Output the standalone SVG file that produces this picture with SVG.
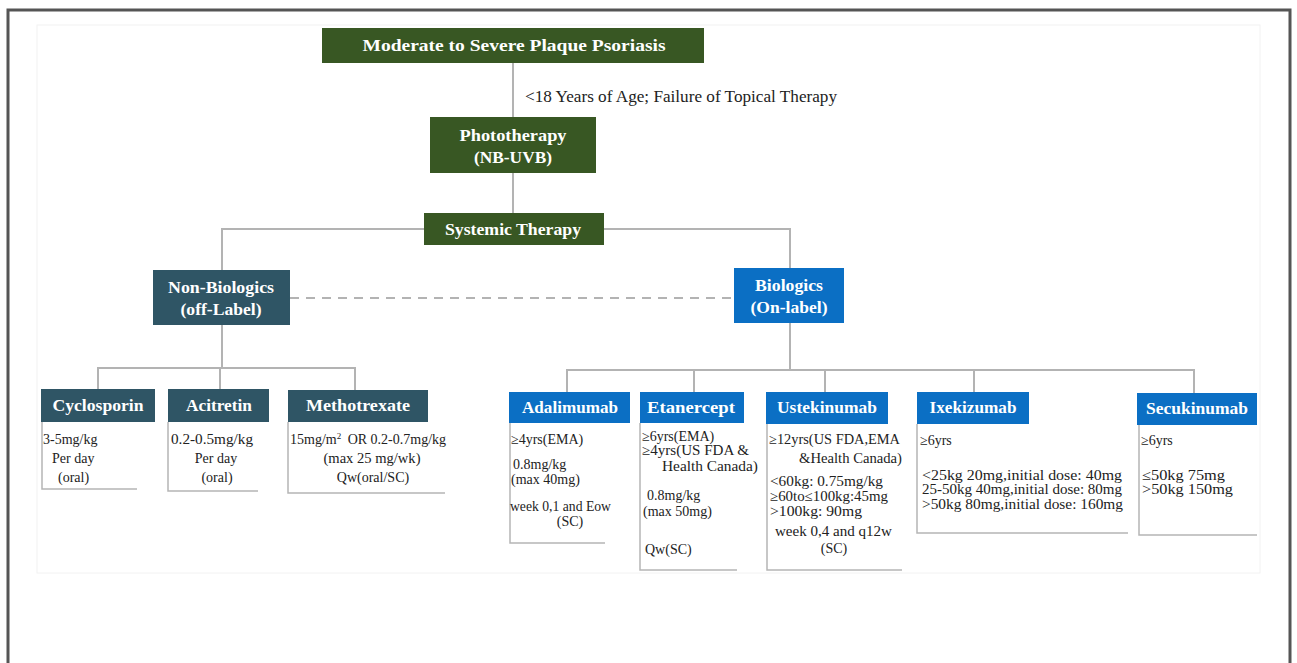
<svg xmlns="http://www.w3.org/2000/svg" width="1297" height="663" viewBox="0 0 1297 663">
<style>
.green{fill:#385723}
.teal{fill:#2f5565}
.blue{fill:#0b6fc4}
.hd{font-family:"Liberation Serif","Times New Roman",serif;font-weight:bold;fill:#ffffff;text-anchor:middle;font-size:16px}
.tx{font-family:"Liberation Serif","Times New Roman",serif;fill:#222222;font-size:14px}
.mid{text-anchor:middle}
.ln{stroke:#b3b3b3;stroke-width:2;fill:none}
.br{stroke:#b5b5b5;stroke-width:1.5;fill:none}
</style>
<rect width="1297" height="663" fill="#ffffff"/>
<path d="M8,670 V10 H1290 V670" fill="none" stroke="#555555" stroke-width="3"/>
<rect x="37" y="25" width="1223" height="548" fill="none" stroke="#f2f2f2" stroke-width="1"/>

<g id="connectors">
<path class="ln" d="M513,63 V117 M513,173 V213"/>
<path class="ln" d="M424,229 H222 V270 M604,229 H790 V268"/>
<path class="ln" d="M290,298 H734" stroke-dasharray="9,7"/>
<path class="ln" d="M222,325 V368 M98,389 V368 H355 V390 M220,368 V389"/>
<path class="ln" d="M790,323 V370 M567,392 V370 H1194 V393 M694,370 V392 M825,370 V392 M974,370 V392"/>
</g>
<text class="tx" x="525" y="102" style="font-size:16px" textLength="312" lengthAdjust="spacingAndGlyphs">&lt;18 Years of Age; Failure of Topical Therapy</text>

<g id="n-title"><rect class="green" x="322" y="28" width="382" height="35"/><text class="hd" x="514" y="51" style="font-size:17px" textLength="303" lengthAdjust="spacingAndGlyphs">Moderate to Severe Plaque Psoriasis</text></g>
<g id="n-photo"><rect class="green" x="430" y="117" width="166" height="56"/><text class="hd" x="513" y="141" textLength="107" lengthAdjust="spacingAndGlyphs">Phototherapy</text><text class="hd" x="513" y="163" textLength="78" lengthAdjust="spacingAndGlyphs">(NB-UVB)</text></g>
<g id="n-systemic"><rect class="green" x="424" y="213" width="180" height="32"/><text class="hd" x="513" y="235" textLength="136" lengthAdjust="spacingAndGlyphs">Systemic Therapy</text></g>
<g id="n-nonbio"><rect class="teal" x="153" y="270" width="137" height="55"/><text class="hd" x="221" y="293" textLength="106" lengthAdjust="spacingAndGlyphs">Non-Biologics</text><text class="hd" x="221" y="315" textLength="81" lengthAdjust="spacingAndGlyphs">(off-Label)</text></g>
<g id="n-bio"><rect class="blue" x="734" y="268" width="110" height="55"/><text class="hd" x="789" y="291" textLength="68" lengthAdjust="spacingAndGlyphs">Biologics</text><text class="hd" x="789" y="313" textLength="77" lengthAdjust="spacingAndGlyphs">(On-label)</text></g>

<g id="n-cyclosporin"><rect class="teal" x="41" y="389" width="114" height="33"/><text class="hd" x="98" y="411" textLength="91" lengthAdjust="spacingAndGlyphs">Cyclosporin</text>
<path class="br" d="M42,422 V489 H137"/>
<text class="tx" x="43" y="444">3-5mg/kg</text><text class="tx" x="52" y="463">Per day</text><text class="tx" x="58" y="482">(oral)</text></g>
<g id="n-acitretin"><rect class="teal" x="168" y="389" width="101" height="33"/><text class="hd" x="219" y="411" textLength="66" lengthAdjust="spacingAndGlyphs">Acitretin</text>
<path class="br" d="M168,422 V491 H258"/>
<text class="tx" x="171" y="444" textLength="82" lengthAdjust="spacingAndGlyphs">0.2-0.5mg/kg</text><text class="tx mid" x="216" y="463">Per day</text><text class="tx mid" x="217" y="482">(oral)</text></g>
<g id="n-methotrexate"><rect class="teal" x="288" y="390" width="140" height="32"/><text class="hd" x="358" y="411" textLength="104" lengthAdjust="spacingAndGlyphs">Methotrexate</text>
<path class="br" d="M288,422 V493 H445"/>
<text class="tx" x="290" y="444">15mg/m<tspan font-size="9" dy="-5">2</tspan><tspan dy="5" dx="3"> OR 0.2-0.7mg/kg</tspan></text><text class="tx mid" x="372" y="463" textLength="97" lengthAdjust="spacingAndGlyphs">(max 25 mg/wk)</text><text class="tx mid" x="373" y="482">Qw(oral/SC)</text></g>

<g id="n-adalimumab"><rect class="blue" x="509" y="392" width="121" height="31"/><text class="hd" x="570" y="413" textLength="96" lengthAdjust="spacingAndGlyphs">Adalimumab</text>
<path class="br" d="M510,423 V543 H605"/>
<text class="tx" x="511" y="444">≥4yrs(EMA)</text><text class="tx" x="513" y="469">0.8mg/kg</text><text class="tx" x="511" y="484">(max 40mg)</text><text class="tx" x="510" y="511" textLength="101" lengthAdjust="spacingAndGlyphs">week 0,1 and Eow</text><text class="tx mid" x="570" y="526">(SC)</text></g>
<g id="n-etanercept"><rect class="blue" x="640" y="392" width="104" height="31"/><text class="hd" x="691" y="413" textLength="88" lengthAdjust="spacingAndGlyphs">Etanercept</text>
<path class="br" d="M640,423 V570 H737"/>
<text class="tx" x="642" y="441">≥6yrs(EMA)</text><text class="tx" x="642" y="455" textLength="107" lengthAdjust="spacingAndGlyphs">≥4yrs(US FDA &amp;</text><text class="tx" x="662" y="471" textLength="96" lengthAdjust="spacingAndGlyphs">Health Canada)</text><text class="tx" x="647" y="500">0.8mg/kg</text><text class="tx" x="643" y="516">(max 50mg)</text><text class="tx" x="645" y="554">Qw(SC)</text></g>
<g id="n-ustekinumab"><rect class="blue" x="766" y="392" width="122" height="32"/><text class="hd" x="827" y="413" textLength="100" lengthAdjust="spacingAndGlyphs">Ustekinumab</text>
<path class="br" d="M767,424 V570 H902"/>
<text class="tx" x="769" y="444" textLength="131" lengthAdjust="spacingAndGlyphs">≥12yrs(US FDA,EMA</text><text class="tx" x="799" y="463" textLength="103" lengthAdjust="spacingAndGlyphs">&amp;Health Canada)</text><text class="tx" x="770" y="486" textLength="113" lengthAdjust="spacingAndGlyphs">&lt;60kg: 0.75mg/kg</text><text class="tx" x="770" y="501" textLength="118" lengthAdjust="spacingAndGlyphs">≥60to≤100kg:45mg</text><text class="tx" x="770" y="516" textLength="92" lengthAdjust="spacingAndGlyphs">&gt;100kg: 90mg</text><text class="tx" x="775" y="536" textLength="117" lengthAdjust="spacingAndGlyphs">week 0,4 and q12w</text><text class="tx mid" x="834" y="553">(SC)</text></g>
<g id="n-ixekizumab"><rect class="blue" x="917" y="392" width="112" height="32"/><text class="hd" x="973" y="413" textLength="87" lengthAdjust="spacingAndGlyphs">Ixekizumab</text>
<path class="br" d="M917,424 V533 H1128"/>
<text class="tx" x="920" y="445">≥6yrs</text><text class="tx" x="922" y="480" textLength="200" lengthAdjust="spacingAndGlyphs">&lt;25kg  20mg,initial  dose: 40mg</text><text class="tx" x="922" y="494" textLength="200" lengthAdjust="spacingAndGlyphs">25-50kg 40mg,initial dose: 80mg</text><text class="tx" x="922" y="509" textLength="201" lengthAdjust="spacingAndGlyphs">&gt;50kg 80mg,initial dose: 160mg</text></g>
<g id="n-secukinumab"><rect class="blue" x="1137" y="393" width="120" height="32"/><text class="hd" x="1197" y="414" textLength="102" lengthAdjust="spacingAndGlyphs">Secukinumab</text>
<path class="br" d="M1139,425 V535 H1257"/>
<text class="tx" x="1141" y="445">≥6yrs</text><text class="tx" x="1142" y="480" textLength="83" lengthAdjust="spacingAndGlyphs">≤50kg  75mg</text><text class="tx" x="1142" y="494" textLength="91" lengthAdjust="spacingAndGlyphs">&gt;50kg  150mg</text></g>
</svg>
